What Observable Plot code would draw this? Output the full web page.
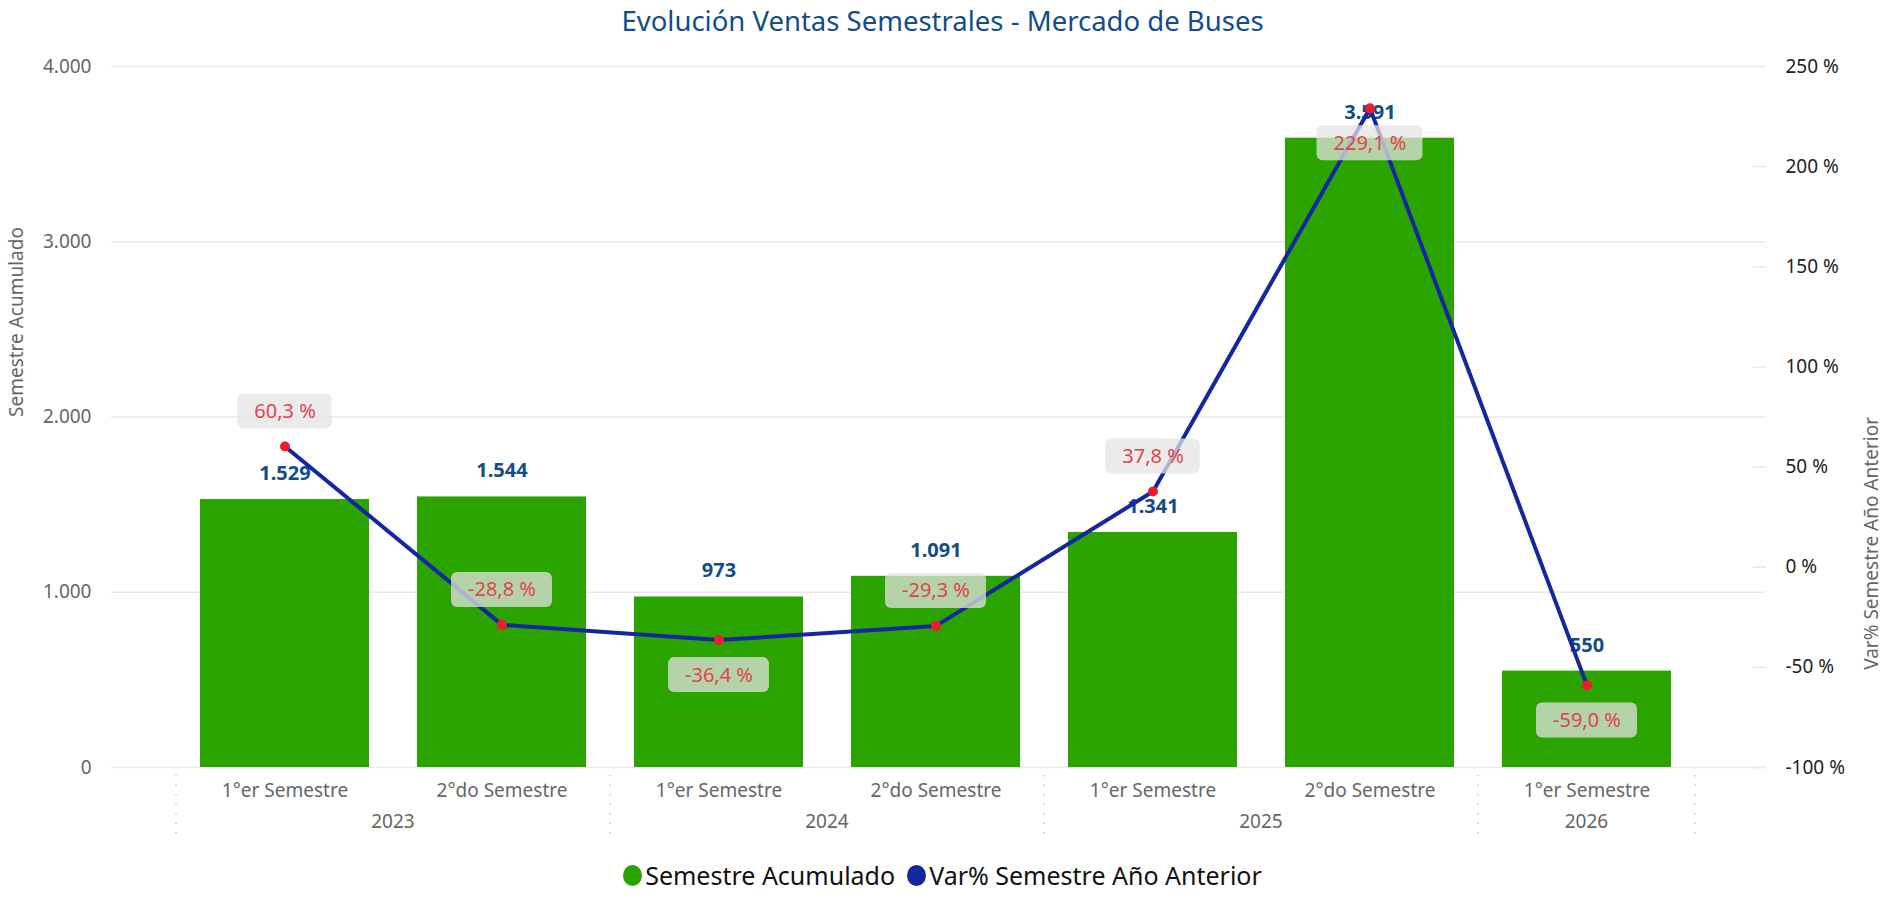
<!DOCTYPE html>
<html>
<head>
<meta charset="utf-8">
<script src="https://cdn.jsdelivr.net/npm/d3@7"></script>
<script src="https://cdn.jsdelivr.net/npm/@observablehq/plot@0.6"></script>
<style>
  html, body { margin: 0; padding: 0; background: #fff; }
  body { width: 1885px; height: 898px; overflow: hidden; font-family: "Noto Sans", sans-serif; }
  #title { height: 40px; line-height: 42px; text-align: center; color: #124d88; font-family: "Noto Sans", sans-serif; font-size: 27.5px; }
  #legend { height: 46px; display: flex; justify-content: center; align-items: center; font-size: 25px; color: #111; }
  #legend .item { display: flex; align-items: center; margin: 0 6px; }
  #legend .sw { width: 19px; height: 21px; border-radius: 50%; margin-right: 3px; }
</style>
</head>
<body>
<div id="title">Evolución Ventas Semestrales - Mercado de Buses</div>
<div id="chart"></div>
<div id="legend"></div>
<script>
// ---- data ----
const years = ["2023", "2023", "2024", "2024", "2025", "2025", "2026"];
const semesters = ["1°er Semestre", "2°do Semestre", "1°er Semestre", "2°do Semestre", "1°er Semestre", "2°do Semestre", "1°er Semestre"];
const sales = [1529, 1544, 973, 1091, 1341, 3591, 550];
const varPct = [60.3, -28.8, -36.4, -29.3, 37.8, 229.1, -59.0];
const pctLabelSide = ["above", "above", "below", "above", "above", "below", "below"];
const leftTicks = [0, 1000, 2000, 3000, 4000];
const rightTicks = [-100, -50, 0, 50, 100, 150, 200, 250];
const seriesNames = ["Semestre Acumulado", "Var% Semestre Año Anterior"];
const colors = {bar: "#2ca400", line: "#1527a0", dot: "#ee1c2e", barLabel: "#134c86", pctLabel: "#e0454f"};

// ---- helpers ----
const leftMax = 4000, pMin = -100, pMax = 250;
const pctToLeft = p => (p - pMin) * leftMax / (pMax - pMin);
const leftToPct = v => v * (pMax - pMin) / leftMax + pMin;
const fmtThousands = v => d3.format(",")(v).replace(/,/g, ".");
const fmtPct = p => d3.format(".1f")(p).replace(".", ",").replace("−", "-") + " %";

const data = years.map((y, i) => ({
  key: y + " " + semesters[i], year: y, sem: semesters[i],
  sales: sales[i], pct: varPct[i], pv: pctToLeft(varPct[i]), side: pctLabelSide[i]
}));

const measure = document.createElement("canvas").getContext("2d");
measure.font = "20px 'Noto Sans'";

// group structure for year labels / separators
const yearGroups = d3.groups(data, d => d.year).map(([year, rows]) => ({year, keys: rows.map(r => r.key)}));

function yearAxis(index, scales, values, dims) {
  const x = scales.x, bw = x.bandwidth(), step = x.step();
  const gap = (step - bw) / 2;
  const y0 = dims.height - dims.marginBottom;
  const g = d3.create("svg:g");
  const edges = new Set();
  yearGroups.forEach(gr => {
    const a = x(gr.keys[0]) - gap, b = x(gr.keys[gr.keys.length - 1]) + bw + gap;
    edges.add(a); edges.add(b);
    g.append("text").attr("x", (a + b) / 2).attr("y", y0 + 54)
      .attr("text-anchor", "middle").attr("dominant-baseline", "central")
      .attr("fill", "#666").attr("font-size", 19).attr("font-family", "Noto Sans")
      .text(gr.year);
  });
  [...edges].forEach(e => {
    g.append("line").attr("x1", e).attr("x2", e).attr("y1", y0 + 8).attr("y2", y0 + 70)
      .attr("stroke", "#c8c8c8").attr("stroke-width", 1.5).attr("stroke-dasharray", "1.5,8");
  });
  return g.node();
}

function pctBoxes(rows) {
  return (index, scales, values, dims) => {
    const x = scales.x, y = scales.y, bw = x.bandwidth();
    const g = d3.create("svg:g");
    rows.forEach(d => {
      const w = measure.measureText(fmtPct(d.pct)).width + 33, h = 35;
      const cx = x(d.key) + bw / 2;
      const cy = y(d.pv) + (d.side === "above" ? -35 : 35);
      g.append("rect").attr("x", cx - w / 2).attr("y", cy - h / 2).attr("width", w).attr("height", h)
        .attr("rx", 6).attr("fill", "#e4e4e4").attr("fill-opacity", 0.74);
    });
    return g.node();
  };
}

const above = data.filter(d => d.side === "above");
const below = data.filter(d => d.side === "below");

const chart = Plot.plot({
  width: 1885,
  height: 812,
  marginTop: 26,
  marginBottom: 85,
  marginLeft: 111,
  marginRight: 120,
  style: {fontFamily: "Noto Sans", background: "#fff"},
  x: {domain: data.map(d => d.key), paddingInner: 0.22, paddingOuter: 0.11, insetLeft: 63, insetRight: 68},
  y: {domain: [0, leftMax]},
  marks: [
    Plot.gridY(leftTicks, {stroke: "#e9e9e9", strokeOpacity: 1, strokeWidth: 1.5}),
    Plot.axisY(leftTicks, {anchor: "left", tickSize: 0, tickPadding: 20, fontSize: 19, fill: "#666",
      tickFormat: fmtThousands, label: null}),
    Plot.axisY(rightTicks.map(pctToLeft), {anchor: "right", tickSize: 0, tickPadding: 20, fontSize: 19, fill: "#222",
      tickFormat: v => fmtPct(Math.round(leftToPct(v))).replace(",0 ", " "), label: null}),
    Plot.axisY(rightTicks.map(pctToLeft), {anchor: "right", tickSize: 13, dx: -13, text: null, stroke: "#e9e9e9", strokeWidth: 1.5, label: null}),
    Plot.text([seriesNames[0]], {frameAnchor: "left", dx: -95, rotate: -90, text: d => d, fontSize: 19, fill: "#666"}),
    Plot.text([seriesNames[1]], {frameAnchor: "right", dx: 106, rotate: -90, text: d => d, fontSize: 19, fill: "#666"}),
    Plot.axisX({tickSize: 0, tickPadding: 16, fontSize: 19, fill: "#666", tickFormat: k => data.find(d => d.key === k).sem, label: null}),
    yearAxis,
    Plot.barY(data, {x: "key", y: "sales", fill: colors.bar}),
    Plot.text(data, {x: "key", y: "sales", text: d => fmtThousands(d.sales), dy: -26, fontSize: 20, fontWeight: "bold", fill: colors.barLabel}),
    Plot.line(data, {x: "key", y: "pv", stroke: colors.line, strokeWidth: 4}),
    Plot.dot(data, {x: "key", y: "pv", r: 5, fill: colors.dot}),
    pctBoxes(data),
    Plot.text(above, {x: "key", y: "pv", text: d => fmtPct(d.pct), dy: -35, fontSize: 20, fill: colors.pctLabel}),
    Plot.text(below, {x: "key", y: "pv", text: d => fmtPct(d.pct), dy: 35, fontSize: 20, fill: colors.pctLabel})
  ]
});
document.getElementById("chart").appendChild(chart);

// legend
const legend = d3.select("#legend");
[[seriesNames[0], colors.bar], [seriesNames[1], colors.line]].forEach(([name, c]) => {
  const it = legend.append("div").attr("class", "item");
  it.append("div").attr("class", "sw").style("background", c);
  it.append("span").text(name);
});
</script>
</body>
</html>
